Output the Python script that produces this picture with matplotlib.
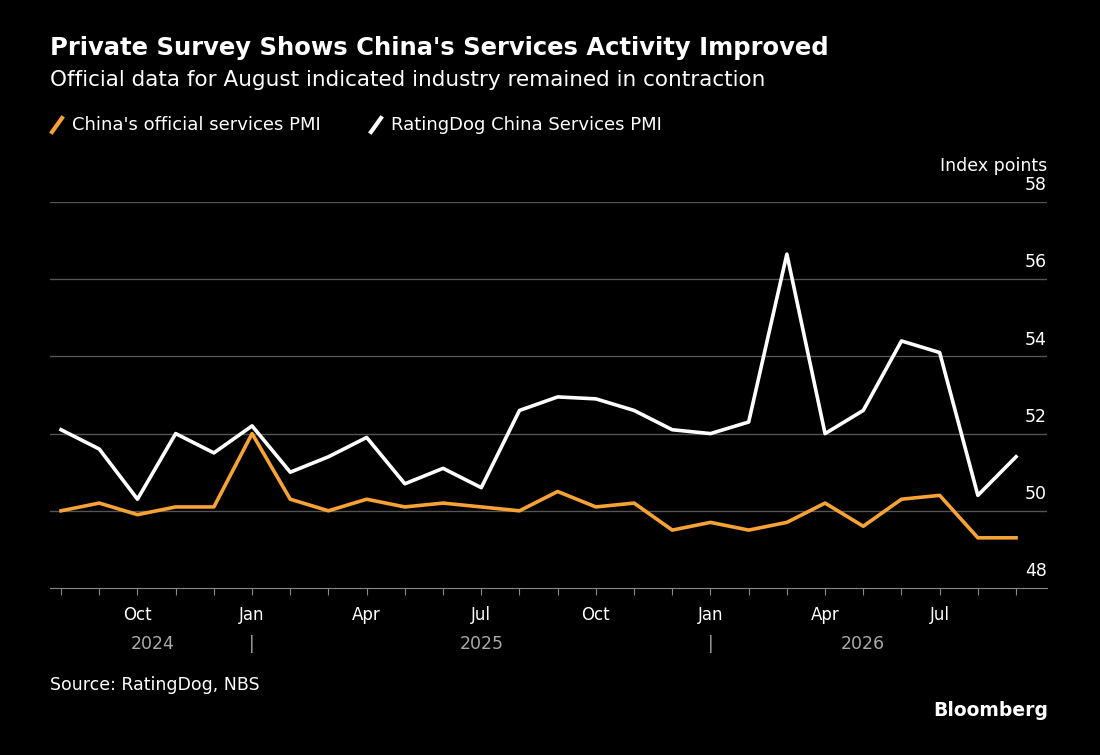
import matplotlib
matplotlib.use("Agg")
import matplotlib.pyplot as plt
from matplotlib.lines import Line2D

months = ["Aug 2024","Sep 2024","Oct 2024","Nov 2024","Dec 2024","Jan 2025","Feb 2025","Mar 2025","Apr 2025","May 2025","Jun 2025","Jul 2025","Aug 2025","Sep 2025","Oct 2025","Nov 2025","Dec 2025","Jan 2026","Feb 2026","Mar 2026","Apr 2026","May 2026","Jun 2026","Jul 2026","Aug 2026","Sep 2026"]
ratingdog = [52.1,51.6,50.3,52.0,51.5,52.2,51.0,51.4,51.9,50.7,51.1,50.6,52.6,52.95,52.9,52.6,52.1,52.0,52.3,56.65,52.0,52.6,54.4,54.1,50.4,51.4]
official = [50.0,50.2,49.9,50.1,50.1,52.0,50.3,50.0,50.3,50.1,50.2,50.1,50.0,50.5,50.1,50.2,49.5,49.7,49.5,49.7,50.2,49.6,50.3,50.4,49.3,49.3]
month_ticks = {2:"Oct",5:"Jan",8:"Apr",11:"Jul",14:"Oct",17:"Jan",20:"Apr",23:"Jul"}
yticks = [48,50,52,54,56,58]

fig = plt.figure(figsize=(11,7.55), dpi=100, facecolor="black")
ax = fig.add_axes([50/1100, 1-588/755, 997/1100, 386/755], facecolor="black")
x = list(range(len(months)))
ax.plot(x, official, color="#f7a234", lw=2.6)
ax.plot(x, ratingdog, color="white", lw=2.6)
ax.set_xlim(-0.29, 25.81)
ax.set_ylim(48, 58)
for y in yticks:
    if y > 48:
        ax.axhline(y, color="#555555", lw=1, zorder=0)
    ax.text(1.0, y+0.2, str(y), transform=ax.get_yaxis_transform(), ha="right", va="bottom", color="white", fontsize=12.5)
ax.text(1.0, 58.7, "Index points", transform=ax.get_yaxis_transform(), ha="right", va="bottom", color="white", fontsize=12.5)
for s in ["top","right","left"]:
    ax.spines[s].set_visible(False)
ax.spines["bottom"].set_color("#888888")
ax.set_yticks([])
ax.set_xticks(x)
ax.set_xticklabels([month_ticks.get(i,"") for i in x], color="white", fontsize=12)
ax.tick_params(axis="x", colors="#888888", length=5, labelcolor="white", pad=8)
tr = ax.get_xaxis_transform()
for xi, lab in [(2.4,"2024"),(11,"2025"),(21,"2026")]:
    ax.text(xi, -0.145, lab, transform=tr, ha="center", va="center", color="#aaaaaa", fontsize=12.5)
for xi in [5,17]:
    ax.text(xi, -0.145, "|", transform=tr, ha="center", va="center", color="#aaaaaa", fontsize=12)

fig.text(50/1100, 1-48/755, "Private Survey Shows China's Services Activity Improved", color="white", fontsize=17.5, fontweight="bold", va="center")
fig.text(50/1100, 1-80/755, "Official data for August indicated industry remained in contraction", color="white", fontsize=15.5, va="center")
fig.lines.append(Line2D([52/1100, 62/1100], [1-132/755, 1-118/755], color="#f7a234", lw=3, transform=fig.transFigure))
fig.text(72/1100, 1-125/755, "China's official services PMI", color="white", fontsize=13, va="center")
fig.lines.append(Line2D([371/1100, 381/1100], [1-132/755, 1-118/755], color="white", lw=3, transform=fig.transFigure))
fig.text(391/1100, 1-125/755, "RatingDog China Services PMI", color="white", fontsize=13, va="center")
fig.text(50/1100, 1-685/755, "Source: RatingDog, NBS", color="white", fontsize=12.5, va="center")
fig.text(1048/1100, 1-711/755, "Bloomberg", color="white", fontsize=13.5, fontweight="bold", va="center", ha="right")
fig.savefig("out.png", dpi=100, facecolor="black")
